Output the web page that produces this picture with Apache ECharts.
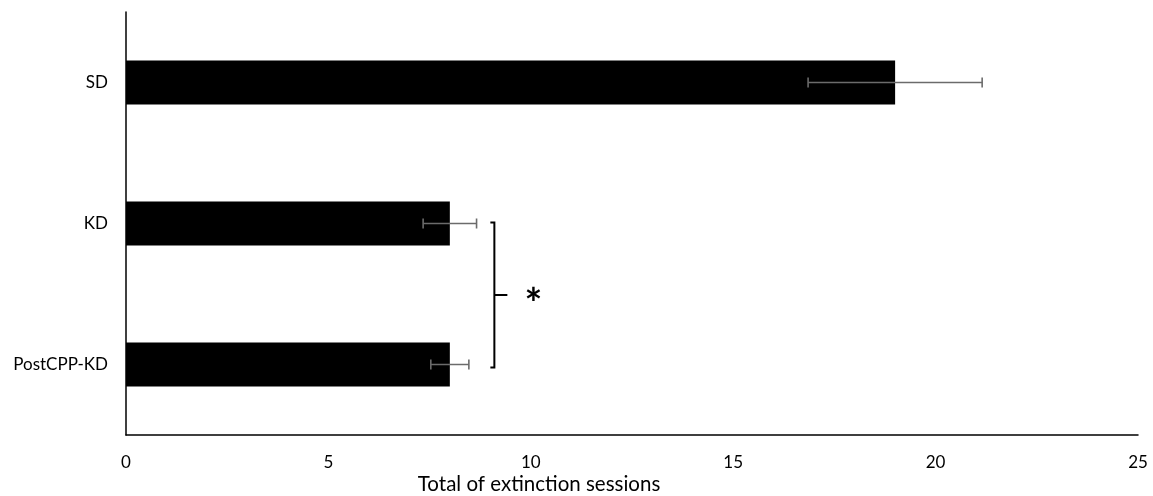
<!DOCTYPE html>
<html><head><meta charset="utf-8">
<script src="https://cdn.jsdelivr.net/npm/echarts@6/dist/echarts.min.js"></script>
<style>html,body{margin:0;padding:0;background:#fff}#c{width:1153px;height:496px}</style>
</head><body><div id="c"></div>
<script>
const categories = ['SD', 'KD', 'PostCPP-KD'];
const values = [19, 8, 8];
const errors = [2.15, 0.66, 0.47];
const xTicks = [0, 5, 10, 15, 20, 25];
const xTitle = 'Total of extinction sessions';
const bracketX = 9.1;
const bracketFrom = 'KD';
const bracketTo = 'PostCPP-KD';
const sigLabel = '*';

const chart = echarts.init(document.getElementById('c'));
const font = 'Lato, "Open Sans", sans-serif';
const errData = categories.map((c, i) => [values[i] - errors[i], values[i] + errors[i], c]);

chart.setOption({
  animation: false,
  grid: { left: 126, right: 15, top: 12, bottom: 61 },
  xAxis: {
    type: 'value', min: xTicks[0], max: xTicks[xTicks.length - 1], interval: 5,
    axisLine: { show: true, lineStyle: { color: '#000', width: 1.5 } },
    axisTick: { show: false },
    splitLine: { show: false },
    axisLabel: { fontFamily: font, fontSize: 17, color: '#000', margin: 19 }
  },
  yAxis: {
    type: 'category', data: categories, inverse: true,
    axisLine: { show: true, lineStyle: { color: '#000', width: 1.5 } },
    axisTick: { show: false },
    axisLabel: { fontFamily: font, fontSize: 17, color: '#000', margin: 18 }
  },
  series: [
    {
      type: 'bar', data: values, barWidth: 44,
      itemStyle: { color: '#000' }
    },
    {
      type: 'custom', data: errData, z: 5,
      encode: { x: [0, 1], y: 2 },
      renderItem: function (params, api) {
        const lo = api.coord([api.value(0), api.value(2)]);
        const hi = api.coord([api.value(1), api.value(2)]);
        const h = 5;
        const st = { stroke: '#6b6b6b', lineWidth: 1.6 };
        return {
          type: 'group', children: [
            { type: 'line', shape: { x1: lo[0], y1: lo[1], x2: hi[0], y2: hi[1] }, style: st },
            { type: 'line', shape: { x1: lo[0], y1: lo[1] - h, x2: lo[0], y2: lo[1] + h }, style: st },
            { type: 'line', shape: { x1: hi[0], y1: hi[1] - h, x2: hi[0], y2: hi[1] + h }, style: st }
          ]
        };
      }
    }
  ]
});

function drawExtras() {
  const top = chart.convertToPixel({ gridIndex: 0 }, [bracketX, bracketFrom]);
  const bot = chart.convertToPixel({ gridIndex: 0 }, [bracketX, bracketTo]);
  const x = top[0], y1 = top[1] - 1, y2 = bot[1] + 3, ym = (y1 + y2) / 2;
  const st = { stroke: '#000', lineWidth: 2 };
  chart.setOption({
    graphic: [
      { type: 'polyline', shape: { points: [[x - 4, y1], [x, y1], [x, y2], [x - 4, y2]] }, style: Object.assign({ fill: null }, st) },
      { type: 'line', shape: { x1: x, y1: ym, x2: x + 13, y2: ym }, style: st },
      { type: 'text', x: x + 39, y: ym + 10, style: { text: sigLabel, font: 'bold 42px ' + font, fill: '#000', textAlign: 'center', textVerticalAlign: 'middle' } },
      { type: 'text', x: 539, y: 484, style: { text: xTitle, font: '20.5px ' + font, fill: '#000', textAlign: 'center', textVerticalAlign: 'middle' } }
    ]
  });
}
drawExtras();
</script></body></html>
